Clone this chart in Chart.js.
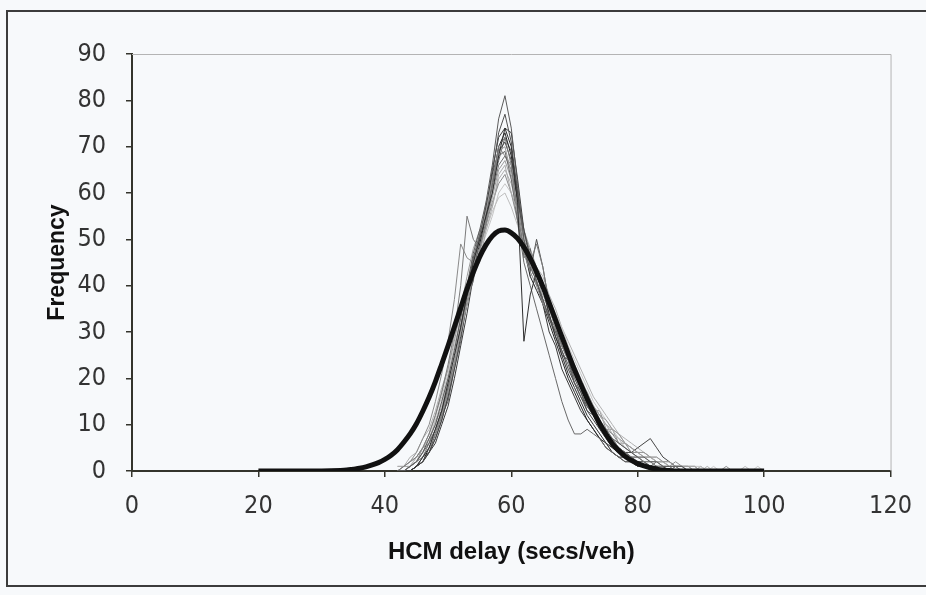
<!DOCTYPE html>
<html>
<head>
<meta charset="utf-8">
<title>HCM delay frequency</title>
<script src="https://cdn.jsdelivr.net/npm/chart.js@4"></script>
<style>
  html, body { margin: 0; padding: 0; background: #f7f9fb; overflow: hidden; }
  #frame { position: absolute; left: 6px; top: 10px; width: 960px; height: 573px; border: 2px solid #3c3c3c; border-right: none; }
  #chart { position: absolute; left: 0; top: 0; }
</style>
</head>
<body>
<div id="frame"></div>
<canvas id="chart" width="926" height="595"></canvas>
<script>
// delay bins shared by all simulation runs (secs/veh)
const delayBins = [
  42, 43, 44, 45, 46, 47, 48, 49, 50, 51,
  52, 53, 54, 55, 56, 57, 58, 59, 60, 61,
  62, 63, 64, 65, 66, 67, 68, 69, 70, 71,
  72, 73, 74, 75, 76, 77, 78, 79, 80, 81,
  82, 83, 84, 85, 86, 87, 88, 89, 90, 91,
  92, 93, 94, 95, 96, 97, 98, 99, 100
];

// frequency per bin, one list per simulation run
const run1 = [0,0,1,2,4,7,10,15,20,26, 33,40,47,52,58,66,76,81,74,62, 50,44,41,37,33,30,26,23,19,16, 14,12,10,9,7,6,5,4,3,3, 2,2,1,1,1,1,0,0,0,0, 0,0,0,0,0,0,0,0,0];
const run2 = [0,0,0,1,3,5,9,13,19,25, 31,38,45,50,55,60,68,74,70,58, 28,38,43,39,34,29,25,21,18,15, 12,10,8,6,5,4,3,2,2,1, 1,1,0,0,0,0,0,0,0,0, 0,0,0,0,0,0,0,0,0];
const run3 = [0,1,2,3,5,8,12,17,23,30, 40,55,50,48,54,62,70,72,66,56, 47,45,49,44,36,33,27,26,20,19, 14,12,10,8,7,5,4,3,3,2, 2,1,1,1,0,0,0,0,0,0, 0,0,0,0,0,0,0,0,0];
const run4 = [0,0,1,2,3,5,8,12,17,23, 30,37,44,50,56,63,69,70,64,57, 50,46,42,39,36,32,28,25,22,19, 17,14,12,11,9,8,6,5,4,4, 3,3,2,2,1,1,1,0,0,0, 0,0,0,0,0,0,0,0,0];
const run5 = [1,1,2,3,5,7,10,14,19,24, 30,36,43,45,52,57,64,66,60,56, 49,45,41,38,35,31,28,25,22,18, 16,14,12,10,9,8,6,5,4,4, 3,2,2,1,1,1,1,1,0,0, 0,0,0,0,0,0,0,0,0];
const run6 = [0,0,0,1,2,4,7,11,16,22, 29,36,43,50,57,64,69,71,67,60, 52,46,41,37,33,29,26,22,19,16, 13,11,9,7,5,4,4,4,5,6, 7,5,3,2,1,1,0,0,0,0, 0,0,0,0,0,0,0,0,0];
const run7 = [0,0,1,2,4,6,9,13,18,24, 31,38,45,51,57,63,68,69,63,54, 45,40,35,30,25,20,15,11,8,8, 9,8,7,5,4,3,2,2,1,1, 1,0,0,0,0,0,0,0,0,0, 0,0,0,0,0,0,0,0,0];
const run8 = [0,1,2,4,7,10,15,21,28,37, 49,46,45,48,53,58,62,64,60,54, 47,43,40,36,33,30,27,24,21,18, 15,13,11,9,8,6,5,4,3,2, 2,1,1,1,0,0,0,0,0,0, 0,0,0,0,0,0,0,0,0];
const run9 = [0,0,1,3,5,8,12,16,21,27, 33,39,44,48,52,56,59,60,57,53, 48,45,42,39,36,33,29,26,23,20, 17,14,12,10,8,7,5,4,3,3, 2,2,1,1,1,1,1,0,1,0, 0,0,0,0,0,1,0,0,0];
const run10 = [0,0,0,1,2,4,7,11,16,23, 31,39,46,51,56,64,73,77,71,60, 49,43,50,44,36,31,27,24,20,17, 14,12,10,8,6,5,4,3,2,2, 1,1,1,0,0,0,0,0,0,0, 0,0,0,0,0,0,0,0,0];
const run11 = [0,1,1,3,5,8,12,17,22,28, 35,42,48,52,54,59,65,67,63,57, 51,47,44,40,37,33,29,25,22,19, 16,14,12,10,8,7,6,5,4,3, 3,2,2,1,1,1,1,1,0,0, 0,0,0,0,0,0,0,0,0];
const run12 = [0,0,0,1,2,5,8,12,17,23, 30,37,44,49,55,62,70,73,68,58, 48,42,39,36,32,28,24,20,17,14, 11,9,7,6,4,3,3,2,1,1, 1,0,0,0,0,0,0,0,0,0, 0,0,0,0,0,0,0,0,0];
const run13 = [0,0,1,2,4,7,11,15,20,26, 32,38,43,47,51,55,60,62,60,55, 50,46,43,40,37,34,31,27,24,21, 18,15,13,11,9,7,6,5,4,3, 3,2,2,1,1,1,1,1,1,0, 1,0,0,0,0,0,0,1,0];
const run14 = [0,0,1,2,3,6,9,13,18,24, 30,36,42,47,53,60,66,68,65,59, 52,47,43,39,35,31,27,24,21,18, 15,12,10,8,7,5,4,3,2,2, 1,1,1,0,1,0,0,0,0,0, 0,0,0,0,0,0,0,0,0];
const run15 = [0,0,1,2,5,6,11,13,20,24, 34,37,46,49,58,61,70,68,66,54, 50,42,44,37,36,30,29,24,23,18, 17,13,13,9,9,6,6,4,4,3, 3,2,2,1,2,1,1,0,1,0, 0,0,1,0,0,0,0,0,0];
const run16 = [0,0,0,1,3,4,8,12,15,22, 28,37,41,51,53,62,67,72,69,61, 46,48,40,40,33,31,25,24,19,17, 13,12,9,8,6,5,4,3,3,2, 1,2,1,0,1,0,0,0,0,0, 0,0,0,0,0,0,0,0,0];
const run17 = [1,1,3,4,7,9,13,18,22,29, 34,40,46,49,55,57,63,65,62,57, 52,48,44,42,38,35,31,28,25,22, 19,16,14,12,10,8,7,6,5,4, 3,3,2,2,1,1,1,1,0,1, 0,0,0,0,0,0,0,0,0];
const run18 = [0,0,0,1,2,4,6,10,14,20, 27,34,42,48,56,65,72,74,73,63, 52,45,41,36,30,27,22,19,16,13, 11,9,7,5,4,3,2,2,1,1, 1,0,0,0,0,0,0,0,0,0, 0,0,0,0,0,0,0,0,0];
const runs = [run1, run2, run3, run4, run5, run6, run7, run8, run9, run10, run11, run12, run13, run14, run15, run16, run17, run18];
const runColors = ['#5a5a5a', '#2e2e2e', '#7a7a7a', '#999999', '#ababab', '#454545', '#686868', '#8a8a8a', '#bdbdbd',
                   '#505050', '#9c9c9c', '#262626', '#c6c6c6', '#737373', '#8f8f8f', '#606060', '#b0b0b0', '#3a3a3a'];

// fitted distribution (thick line)
const fitDelay = [20, 25, 30, 33, 34, 35, 36, 37, 38, 39, 40, 41, 42, 43, 44, 45, 46, 47, 48, 49,
  50, 51, 52, 53, 54, 55, 56, 57, 58, 59, 60, 61, 62, 63, 64, 65, 66, 67, 68, 69,
  70, 71, 72, 73, 74, 75, 76, 77, 78, 79, 80, 81, 82, 83, 84, 85, 86, 90, 95, 100];
const fitFreq = [0, 0, 0, 0.1, 0.2, 0.4, 0.6, 0.9, 1.3, 1.8, 2.5, 3.4, 4.6, 6.2, 8.0, 10.2, 12.9, 15.9, 19.3, 23.1,
  27.0, 31.1, 35.2, 39.3, 42.9, 46.2, 48.8, 50.7, 51.8, 52.0, 51.4, 50.2, 48.3, 45.9, 43.0, 39.8, 36.3, 32.6, 29.0, 25.4,
  21.9, 18.7, 15.6, 12.8, 10.2, 7.9, 5.9, 4.4, 3.2, 2.3, 1.6, 1.1, 0.7, 0.4, 0.2, 0.1, 0, 0, 0, 0];

const xTicks = [0, 20, 40, 60, 80, 100, 120];
const yTicks = [0, 10, 20, 30, 40, 50, 60, 70, 80, 90];

const axisColor = '#34342c';
const tickFont = { family: '"Liberation Sans Narrow", "DejaVu Sans Condensed", Arial, sans-serif', size: 25 };
const titleFont = { family: '"Liberation Sans", Arial, sans-serif', size: 24, weight: 'bold' };

const datasets = [{
  label: 'Fitted',
  data: fitDelay.map((d, i) => ({ x: d, y: fitFreq[i] })),
  borderColor: '#111111',
  borderWidth: 5,
  pointRadius: 0,
  cubicInterpolationMode: 'monotone',
  order: 0
}].concat(runs.map((vals, i) => ({
  label: 'Run ' + (i + 1),
  data: vals.map((v, j) => ({ x: delayBins[j], y: v })),
  borderColor: runColors[i],
  borderWidth: 1,
  pointRadius: 0,
  tension: 0,
  order: 1
})));

// thin grey frame on the top and right of the plot area
const plotFrame = {
  id: 'plotFrame',
  beforeDatasetsDraw(chart) {
    const { ctx, chartArea: a } = chart;
    ctx.save();
    ctx.strokeStyle = '#b4b4b4';
    ctx.lineWidth = 1;
    ctx.beginPath();
    ctx.moveTo(a.left, a.top + 0.5);
    ctx.lineTo(a.right + 0.5, a.top + 0.5);
    ctx.lineTo(a.right + 0.5, a.bottom);
    ctx.stroke();
    ctx.restore();
  }
};

new Chart(document.getElementById('chart'), {
  type: 'line',
  data: { datasets },
  plugins: [plotFrame],
  options: {
    responsive: false,
    animation: false,
    devicePixelRatio: 1,
    layout: { padding: { top: 54, right: 34, bottom: 0, left: 0 } },
    plugins: { legend: { display: false }, tooltip: { enabled: false } },
    scales: {
      x: {
        type: 'linear',
        min: 0,
        max: 120,
        afterBuildTicks: s => { s.ticks = xTicks.map(v => ({ value: v })); },
        afterFit: s => { s.height = 124; },
        ticks: { font: tickFont, color: '#333333', padding: 14, maxRotation: 0 },
        grid: { drawOnChartArea: false, drawTicks: true, tickLength: 6, color: axisColor, lineWidth: 1.5 },
        border: { color: axisColor, width: 2 },
        title: { display: true, text: 'HCM delay (secs/veh)', font: titleFont, color: '#111111', padding: { top: 0, bottom: 28 } }
      },
      y: {
        type: 'linear',
        min: 0,
        max: 90,
        afterBuildTicks: s => { s.ticks = yTicks.map(v => ({ value: v })); },
        afterFit: s => { s.width = 132; },
        ticks: { font: tickFont, color: '#333333', padding: 20 },
        grid: { drawOnChartArea: false, drawTicks: true, tickLength: 6, color: axisColor, lineWidth: 1.5 },
        border: { color: axisColor, width: 2 },
        title: { display: true, text: 'Frequency', font: { family: titleFont.family, size: 23, weight: 'bold' }, color: '#111111', padding: { top: 44, bottom: 0 } }
      }
    }
  }
});
</script>
</body>
</html>
